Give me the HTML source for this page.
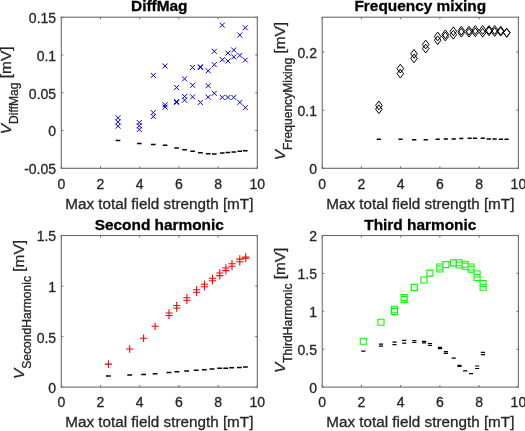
<!DOCTYPE html>
<html><head><meta charset="utf-8"><style>
html,body{margin:0;padding:0;background:#fff;}
svg{display:block;will-change:transform;}
text{font-family:"Liberation Sans",sans-serif;fill:#262626;stroke:#262626;stroke-width:0.3px;}
.tk{font-size:14px;}
.lb{font-size:15.4px;}
.sb{font-size:12.1px;}
.xl{font-size:15.25px;}
.tt{font-size:15.4px;font-weight:bold;fill:#000;stroke:#000;}
</style></head><body>
<svg width="525" height="431" viewBox="0 0 525 431">
<rect width="525" height="431" fill="#fff"/>
<rect x="61.3" y="17.2" width="196.0" height="151.1" fill="none" stroke="#6b6b6b" stroke-width="1.1"/>
<line x1="61.3" y1="168.3" x2="61.3" y2="166.3" stroke="#6b6b6b" stroke-width="1"/>
<line x1="61.3" y1="17.2" x2="61.3" y2="19.2" stroke="#6b6b6b" stroke-width="1"/>
<text x="61.3" y="188.5" class="tk" text-anchor="middle">0</text>
<line x1="100.5" y1="168.3" x2="100.5" y2="166.3" stroke="#6b6b6b" stroke-width="1"/>
<line x1="100.5" y1="17.2" x2="100.5" y2="19.2" stroke="#6b6b6b" stroke-width="1"/>
<text x="100.5" y="188.5" class="tk" text-anchor="middle">2</text>
<line x1="139.7" y1="168.3" x2="139.7" y2="166.3" stroke="#6b6b6b" stroke-width="1"/>
<line x1="139.7" y1="17.2" x2="139.7" y2="19.2" stroke="#6b6b6b" stroke-width="1"/>
<text x="139.7" y="188.5" class="tk" text-anchor="middle">4</text>
<line x1="178.9" y1="168.3" x2="178.9" y2="166.3" stroke="#6b6b6b" stroke-width="1"/>
<line x1="178.9" y1="17.2" x2="178.9" y2="19.2" stroke="#6b6b6b" stroke-width="1"/>
<text x="178.9" y="188.5" class="tk" text-anchor="middle">6</text>
<line x1="218.1" y1="168.3" x2="218.1" y2="166.3" stroke="#6b6b6b" stroke-width="1"/>
<line x1="218.1" y1="17.2" x2="218.1" y2="19.2" stroke="#6b6b6b" stroke-width="1"/>
<text x="218.1" y="188.5" class="tk" text-anchor="middle">8</text>
<line x1="257.3" y1="168.3" x2="257.3" y2="166.3" stroke="#6b6b6b" stroke-width="1"/>
<line x1="257.3" y1="17.2" x2="257.3" y2="19.2" stroke="#6b6b6b" stroke-width="1"/>
<text x="257.3" y="188.5" class="tk" text-anchor="middle">10</text>
<line x1="61.3" y1="168.3" x2="63.3" y2="168.3" stroke="#6b6b6b" stroke-width="1"/>
<line x1="257.3" y1="168.3" x2="255.3" y2="168.3" stroke="#6b6b6b" stroke-width="1"/>
<text x="56.1" y="174.2" class="tk" text-anchor="end">-0.05</text>
<line x1="61.3" y1="130.5" x2="63.3" y2="130.5" stroke="#6b6b6b" stroke-width="1"/>
<line x1="257.3" y1="130.5" x2="255.3" y2="130.5" stroke="#6b6b6b" stroke-width="1"/>
<text x="56.1" y="136.4" class="tk" text-anchor="end">0</text>
<line x1="61.3" y1="92.8" x2="63.3" y2="92.8" stroke="#6b6b6b" stroke-width="1"/>
<line x1="257.3" y1="92.8" x2="255.3" y2="92.8" stroke="#6b6b6b" stroke-width="1"/>
<text x="56.1" y="98.7" class="tk" text-anchor="end">0.05</text>
<line x1="61.3" y1="55.0" x2="63.3" y2="55.0" stroke="#6b6b6b" stroke-width="1"/>
<line x1="257.3" y1="55.0" x2="255.3" y2="55.0" stroke="#6b6b6b" stroke-width="1"/>
<text x="56.1" y="60.9" class="tk" text-anchor="end">0.1</text>
<line x1="61.3" y1="17.2" x2="63.3" y2="17.2" stroke="#6b6b6b" stroke-width="1"/>
<line x1="257.3" y1="17.2" x2="255.3" y2="17.2" stroke="#6b6b6b" stroke-width="1"/>
<text x="56.1" y="23.1" class="tk" text-anchor="end">0.15</text>
<text x="159.3" y="208.6" class="xl" text-anchor="middle">Max total field strength [mT]</text>
<text x="159.3" y="11.2" class="tt" text-anchor="middle">DiffMag</text>
<text transform="translate(10.9,134.2) rotate(-90)" class="lb"><tspan font-style="italic">V</tspan><tspan class="sb" dy="7">DiffMag</tspan><tspan dy="-7"> [mV]</tspan></text>
<rect x="322.2" y="17.2" width="196.2" height="151.1" fill="none" stroke="#6b6b6b" stroke-width="1.1"/>
<line x1="322.2" y1="168.3" x2="322.2" y2="166.3" stroke="#6b6b6b" stroke-width="1"/>
<line x1="322.2" y1="17.2" x2="322.2" y2="19.2" stroke="#6b6b6b" stroke-width="1"/>
<text x="322.2" y="188.5" class="tk" text-anchor="middle">0</text>
<line x1="361.4" y1="168.3" x2="361.4" y2="166.3" stroke="#6b6b6b" stroke-width="1"/>
<line x1="361.4" y1="17.2" x2="361.4" y2="19.2" stroke="#6b6b6b" stroke-width="1"/>
<text x="361.4" y="188.5" class="tk" text-anchor="middle">2</text>
<line x1="400.7" y1="168.3" x2="400.7" y2="166.3" stroke="#6b6b6b" stroke-width="1"/>
<line x1="400.7" y1="17.2" x2="400.7" y2="19.2" stroke="#6b6b6b" stroke-width="1"/>
<text x="400.7" y="188.5" class="tk" text-anchor="middle">4</text>
<line x1="439.9" y1="168.3" x2="439.9" y2="166.3" stroke="#6b6b6b" stroke-width="1"/>
<line x1="439.9" y1="17.2" x2="439.9" y2="19.2" stroke="#6b6b6b" stroke-width="1"/>
<text x="439.9" y="188.5" class="tk" text-anchor="middle">6</text>
<line x1="479.2" y1="168.3" x2="479.2" y2="166.3" stroke="#6b6b6b" stroke-width="1"/>
<line x1="479.2" y1="17.2" x2="479.2" y2="19.2" stroke="#6b6b6b" stroke-width="1"/>
<text x="479.2" y="188.5" class="tk" text-anchor="middle">8</text>
<line x1="518.4" y1="168.3" x2="518.4" y2="166.3" stroke="#6b6b6b" stroke-width="1"/>
<line x1="518.4" y1="17.2" x2="518.4" y2="19.2" stroke="#6b6b6b" stroke-width="1"/>
<text x="518.4" y="188.5" class="tk" text-anchor="middle">10</text>
<line x1="322.2" y1="168.3" x2="324.2" y2="168.3" stroke="#6b6b6b" stroke-width="1"/>
<line x1="518.4" y1="168.3" x2="516.4" y2="168.3" stroke="#6b6b6b" stroke-width="1"/>
<text x="317.0" y="174.2" class="tk" text-anchor="end">0</text>
<line x1="322.2" y1="110.2" x2="324.2" y2="110.2" stroke="#6b6b6b" stroke-width="1"/>
<line x1="518.4" y1="110.2" x2="516.4" y2="110.2" stroke="#6b6b6b" stroke-width="1"/>
<text x="317.0" y="116.1" class="tk" text-anchor="end">0.1</text>
<line x1="322.2" y1="52.1" x2="324.2" y2="52.1" stroke="#6b6b6b" stroke-width="1"/>
<line x1="518.4" y1="52.1" x2="516.4" y2="52.1" stroke="#6b6b6b" stroke-width="1"/>
<text x="317.0" y="58.0" class="tk" text-anchor="end">0.2</text>
<text x="420.3" y="208.6" class="xl" text-anchor="middle">Max total field strength [mT]</text>
<text x="420.3" y="11.2" class="tt" text-anchor="middle">Frequency mixing</text>
<text transform="translate(284.6,160.2) rotate(-90)" class="lb"><tspan font-style="italic">V</tspan><tspan class="sb" dy="7">FrequencyMixing</tspan><tspan dy="-7"> [mV]</tspan></text>
<rect x="61.3" y="235.5" width="196.0" height="151.6" fill="none" stroke="#6b6b6b" stroke-width="1.1"/>
<line x1="61.3" y1="387.1" x2="61.3" y2="385.1" stroke="#6b6b6b" stroke-width="1"/>
<line x1="61.3" y1="235.5" x2="61.3" y2="237.5" stroke="#6b6b6b" stroke-width="1"/>
<text x="61.3" y="407.3" class="tk" text-anchor="middle">0</text>
<line x1="100.5" y1="387.1" x2="100.5" y2="385.1" stroke="#6b6b6b" stroke-width="1"/>
<line x1="100.5" y1="235.5" x2="100.5" y2="237.5" stroke="#6b6b6b" stroke-width="1"/>
<text x="100.5" y="407.3" class="tk" text-anchor="middle">2</text>
<line x1="139.7" y1="387.1" x2="139.7" y2="385.1" stroke="#6b6b6b" stroke-width="1"/>
<line x1="139.7" y1="235.5" x2="139.7" y2="237.5" stroke="#6b6b6b" stroke-width="1"/>
<text x="139.7" y="407.3" class="tk" text-anchor="middle">4</text>
<line x1="178.9" y1="387.1" x2="178.9" y2="385.1" stroke="#6b6b6b" stroke-width="1"/>
<line x1="178.9" y1="235.5" x2="178.9" y2="237.5" stroke="#6b6b6b" stroke-width="1"/>
<text x="178.9" y="407.3" class="tk" text-anchor="middle">6</text>
<line x1="218.1" y1="387.1" x2="218.1" y2="385.1" stroke="#6b6b6b" stroke-width="1"/>
<line x1="218.1" y1="235.5" x2="218.1" y2="237.5" stroke="#6b6b6b" stroke-width="1"/>
<text x="218.1" y="407.3" class="tk" text-anchor="middle">8</text>
<line x1="257.3" y1="387.1" x2="257.3" y2="385.1" stroke="#6b6b6b" stroke-width="1"/>
<line x1="257.3" y1="235.5" x2="257.3" y2="237.5" stroke="#6b6b6b" stroke-width="1"/>
<text x="257.3" y="407.3" class="tk" text-anchor="middle">10</text>
<line x1="61.3" y1="387.1" x2="63.3" y2="387.1" stroke="#6b6b6b" stroke-width="1"/>
<line x1="257.3" y1="387.1" x2="255.3" y2="387.1" stroke="#6b6b6b" stroke-width="1"/>
<text x="56.1" y="393.0" class="tk" text-anchor="end">0</text>
<line x1="61.3" y1="336.6" x2="63.3" y2="336.6" stroke="#6b6b6b" stroke-width="1"/>
<line x1="257.3" y1="336.6" x2="255.3" y2="336.6" stroke="#6b6b6b" stroke-width="1"/>
<text x="56.1" y="342.5" class="tk" text-anchor="end">0.5</text>
<line x1="61.3" y1="286.0" x2="63.3" y2="286.0" stroke="#6b6b6b" stroke-width="1"/>
<line x1="257.3" y1="286.0" x2="255.3" y2="286.0" stroke="#6b6b6b" stroke-width="1"/>
<text x="56.1" y="291.9" class="tk" text-anchor="end">1</text>
<line x1="61.3" y1="235.5" x2="63.3" y2="235.5" stroke="#6b6b6b" stroke-width="1"/>
<line x1="257.3" y1="235.5" x2="255.3" y2="235.5" stroke="#6b6b6b" stroke-width="1"/>
<text x="56.1" y="241.4" class="tk" text-anchor="end">1.5</text>
<text x="159.3" y="427.4" class="xl" text-anchor="middle">Max total field strength [mT]</text>
<text x="159.3" y="229.5" class="tt" text-anchor="middle">Second harmonic</text>
<text transform="translate(24.4,379.0) rotate(-90)" class="lb"><tspan font-style="italic">V</tspan><tspan class="sb" dy="7">SecondHarmonic</tspan><tspan dy="-7"> [mV]</tspan></text>
<rect x="322.2" y="235.5" width="196.2" height="151.6" fill="none" stroke="#6b6b6b" stroke-width="1.1"/>
<line x1="322.2" y1="387.1" x2="322.2" y2="385.1" stroke="#6b6b6b" stroke-width="1"/>
<line x1="322.2" y1="235.5" x2="322.2" y2="237.5" stroke="#6b6b6b" stroke-width="1"/>
<text x="322.2" y="407.3" class="tk" text-anchor="middle">0</text>
<line x1="361.4" y1="387.1" x2="361.4" y2="385.1" stroke="#6b6b6b" stroke-width="1"/>
<line x1="361.4" y1="235.5" x2="361.4" y2="237.5" stroke="#6b6b6b" stroke-width="1"/>
<text x="361.4" y="407.3" class="tk" text-anchor="middle">2</text>
<line x1="400.7" y1="387.1" x2="400.7" y2="385.1" stroke="#6b6b6b" stroke-width="1"/>
<line x1="400.7" y1="235.5" x2="400.7" y2="237.5" stroke="#6b6b6b" stroke-width="1"/>
<text x="400.7" y="407.3" class="tk" text-anchor="middle">4</text>
<line x1="439.9" y1="387.1" x2="439.9" y2="385.1" stroke="#6b6b6b" stroke-width="1"/>
<line x1="439.9" y1="235.5" x2="439.9" y2="237.5" stroke="#6b6b6b" stroke-width="1"/>
<text x="439.9" y="407.3" class="tk" text-anchor="middle">6</text>
<line x1="479.2" y1="387.1" x2="479.2" y2="385.1" stroke="#6b6b6b" stroke-width="1"/>
<line x1="479.2" y1="235.5" x2="479.2" y2="237.5" stroke="#6b6b6b" stroke-width="1"/>
<text x="479.2" y="407.3" class="tk" text-anchor="middle">8</text>
<line x1="518.4" y1="387.1" x2="518.4" y2="385.1" stroke="#6b6b6b" stroke-width="1"/>
<line x1="518.4" y1="235.5" x2="518.4" y2="237.5" stroke="#6b6b6b" stroke-width="1"/>
<text x="518.4" y="407.3" class="tk" text-anchor="middle">10</text>
<line x1="322.2" y1="387.1" x2="324.2" y2="387.1" stroke="#6b6b6b" stroke-width="1"/>
<line x1="518.4" y1="387.1" x2="516.4" y2="387.1" stroke="#6b6b6b" stroke-width="1"/>
<text x="317.0" y="393.0" class="tk" text-anchor="end">0</text>
<line x1="322.2" y1="349.2" x2="324.2" y2="349.2" stroke="#6b6b6b" stroke-width="1"/>
<line x1="518.4" y1="349.2" x2="516.4" y2="349.2" stroke="#6b6b6b" stroke-width="1"/>
<text x="317.0" y="355.1" class="tk" text-anchor="end">0.5</text>
<line x1="322.2" y1="311.3" x2="324.2" y2="311.3" stroke="#6b6b6b" stroke-width="1"/>
<line x1="518.4" y1="311.3" x2="516.4" y2="311.3" stroke="#6b6b6b" stroke-width="1"/>
<text x="317.0" y="317.2" class="tk" text-anchor="end">1</text>
<line x1="322.2" y1="273.4" x2="324.2" y2="273.4" stroke="#6b6b6b" stroke-width="1"/>
<line x1="518.4" y1="273.4" x2="516.4" y2="273.4" stroke="#6b6b6b" stroke-width="1"/>
<text x="317.0" y="279.3" class="tk" text-anchor="end">1.5</text>
<line x1="322.2" y1="235.5" x2="324.2" y2="235.5" stroke="#6b6b6b" stroke-width="1"/>
<line x1="518.4" y1="235.5" x2="516.4" y2="235.5" stroke="#6b6b6b" stroke-width="1"/>
<text x="317.0" y="241.4" class="tk" text-anchor="end">2</text>
<text x="420.3" y="427.4" class="xl" text-anchor="middle">Max total field strength [mT]</text>
<text x="420.3" y="229.5" class="tt" text-anchor="middle">Third harmonic</text>
<text transform="translate(284.6,373.1) rotate(-90)" class="lb"><tspan font-style="italic">V</tspan><tspan class="sb" dy="7">ThirdHarmonic</tspan><tspan dy="-7"> [mV]</tspan></text>
<path d="M115.5 115.3l5 5m0 -5l-5 5M115.5 119.4l5 5m0 -5l-5 5M115.5 123.7l5 5m0 -5l-5 5M136.8 120.0l5 5m0 -5l-5 5M136.8 123.3l5 5m0 -5l-5 5M136.8 127.0l5 5m0 -5l-5 5M150.8 72.9l5 5m0 -5l-5 5M150.8 110.1l5 5m0 -5l-5 5M150.8 114.0l5 5m0 -5l-5 5M162.6 63.5l5 5m0 -5l-5 5M162.6 102.3l5 5m0 -5l-5 5M162.6 104.6l5 5m0 -5l-5 5M174.1 85.0l5 5m0 -5l-5 5M174.1 99.1l5 5m0 -5l-5 5M174.1 99.9l5 5m0 -5l-5 5M182.1 76.3l5 5m0 -5l-5 5M182.1 94.0l5 5m0 -5l-5 5M182.1 97.7l5 5m0 -5l-5 5M190.1 65.0l5 5m0 -5l-5 5M190.1 82.8l5 5m0 -5l-5 5M190.1 94.4l5 5m0 -5l-5 5M197.9 64.3l5 5m0 -5l-5 5M197.9 65.0l5 5m0 -5l-5 5M197.9 99.9l5 5m0 -5l-5 5M205.7 68.3l5 5m0 -5l-5 5M205.7 83.2l5 5m0 -5l-5 5M205.7 94.6l5 5m0 -5l-5 5M211.8 48.8l5 5m0 -5l-5 5M211.8 62.2l5 5m0 -5l-5 5M211.8 90.8l5 5m0 -5l-5 5M219.8 22.7l5 5m0 -5l-5 5M219.8 57.2l5 5m0 -5l-5 5M219.8 94.9l5 5m0 -5l-5 5M225.4 50.7l5 5m0 -5l-5 5M225.4 58.5l5 5m0 -5l-5 5M225.4 94.9l5 5m0 -5l-5 5M231.3 47.5l5 5m0 -5l-5 5M231.3 54.4l5 5m0 -5l-5 5M231.3 94.9l5 5m0 -5l-5 5M237.3 32.5l5 5m0 -5l-5 5M237.3 52.9l5 5m0 -5l-5 5M237.3 99.9l5 5m0 -5l-5 5M242.8 25.3l5 5m0 -5l-5 5M242.8 57.5l5 5m0 -5l-5 5M242.8 105.1l5 5m0 -5l-5 5" stroke="#0000ff" stroke-width="1" fill="none"/>
<path d="M115.7 140.5h4.6M137.0 143.5h4.6M151.0 144.4h4.6M162.8 145.3h4.6M174.3 148.1h4.6M182.3 149.8h4.6M190.3 151.3h4.6M198.1 152.7h4.6M205.9 153.7h4.6M212.0 154.0h4.6M220.0 153.1h4.6M225.6 152.4h4.6M231.5 152.0h4.6M237.5 151.3h4.6M243.0 150.7h4.6" stroke="#000" stroke-width="1.5" fill="none"/>
<path d="M378.9 101.0l3.3 4.4l-3.3 4.4l-3.3 -4.4zM378.9 104.8l3.3 4.4l-3.3 4.4l-3.3 -4.4zM400.3 64.2l3.3 4.4l-3.3 4.4l-3.3 -4.4zM400.3 69.2l3.3 4.4l-3.3 4.4l-3.3 -4.4zM414.0 49.4l3.3 4.4l-3.3 4.4l-3.3 -4.4zM414.0 54.0l3.3 4.4l-3.3 4.4l-3.3 -4.4zM425.7 40.1l3.3 4.4l-3.3 4.4l-3.3 -4.4zM425.7 44.2l3.3 4.4l-3.3 4.4l-3.3 -4.4zM437.7 32.1l3.3 4.4l-3.3 4.4l-3.3 -4.4zM437.7 35.8l3.3 4.4l-3.3 4.4l-3.3 -4.4zM445.3 29.9l3.3 4.4l-3.3 4.4l-3.3 -4.4zM445.3 32.1l3.3 4.4l-3.3 4.4l-3.3 -4.4zM453.3 26.9l3.3 4.4l-3.3 4.4l-3.3 -4.4zM453.3 30.3l3.3 4.4l-3.3 4.4l-3.3 -4.4zM461.3 26.3l3.3 4.4l-3.3 4.4l-3.3 -4.4zM461.3 28.3l3.3 4.4l-3.3 4.4l-3.3 -4.4zM469.0 26.3l3.3 4.4l-3.3 4.4l-3.3 -4.4zM469.0 28.3l3.3 4.4l-3.3 4.4l-3.3 -4.4zM475.3 25.6l3.3 4.4l-3.3 4.4l-3.3 -4.4zM475.3 27.9l3.3 4.4l-3.3 4.4l-3.3 -4.4zM482.7 25.6l3.3 4.4l-3.3 4.4l-3.3 -4.4zM482.7 28.3l3.3 4.4l-3.3 4.4l-3.3 -4.4zM489.0 25.6l3.3 4.4l-3.3 4.4l-3.3 -4.4zM489.0 26.9l3.3 4.4l-3.3 4.4l-3.3 -4.4zM494.7 25.6l3.3 4.4l-3.3 4.4l-3.3 -4.4zM494.7 27.6l3.3 4.4l-3.3 4.4l-3.3 -4.4zM500.7 26.3l3.3 4.4l-3.3 4.4l-3.3 -4.4zM500.7 27.3l3.3 4.4l-3.3 4.4l-3.3 -4.4zM506.7 28.3l3.3 4.4l-3.3 4.4l-3.3 -4.4zM506.7 28.3l3.3 4.4l-3.3 4.4l-3.3 -4.4z" stroke="#000" stroke-width="1.0" fill="none"/>
<path d="M376.8 139.2h4.2M398.5 139.2h4.2M412.1 139.7h4.2M423.6 139.7h4.2M435.6 139.2h4.2M443.7 139.0h4.2M451.6 138.9h4.2M459.2 138.6h4.2M467.6 138.3h4.2M472.9 138.3h4.2M480.6 138.3h4.2M486.7 138.9h4.2M492.5 138.9h4.2M498.9 139.2h4.2M504.5 139.2h4.2" stroke="#000" stroke-width="1.5" fill="none"/>
<path d="M104.8 364.1h7.2M108.4 360.3v7.6M126.1 349.0h7.2M129.7 345.2v7.6M140.0 338.2h7.2M143.6 334.4v7.6M151.5 326.3h7.2M155.1 322.5v7.6M165.4 313.0h7.2M169.0 309.2v7.6M165.4 315.5h7.2M169.0 311.7v7.6M173.1 305.5h7.2M176.7 301.7v7.6M173.1 308.0h7.2M176.7 304.2v7.6M183.3 297.7h7.2M186.9 293.9v7.6M183.3 300.3h7.2M186.9 296.5v7.6M193.0 289.7h7.2M196.6 285.9v7.6M193.0 292.3h7.2M196.6 288.5v7.6M200.9 284.2h7.2M204.5 280.4v7.6M200.9 286.8h7.2M204.5 283.0v7.6M208.9 278.2h7.2M212.5 274.4v7.6M208.9 280.8h7.2M212.5 277.0v7.6M216.2 273.0h7.2M219.8 269.2v7.6M216.2 275.6h7.2M219.8 271.8v7.6M222.3 268.0h7.2M225.9 264.2v7.6M222.3 270.6h7.2M225.9 266.8v7.6M228.4 263.7h7.2M232.0 259.9v7.6M228.4 266.3h7.2M232.0 262.5v7.6M236.2 259.1h7.2M239.8 255.3v7.6M236.2 261.7h7.2M239.8 257.9v7.6M242.1 257.0h7.2M245.7 253.2v7.6M242.1 258.2h7.2M245.7 254.4v7.6" stroke="#ff0000" stroke-width="1.1" fill="none"/>
<path d="M106.0 376.1h4.8M127.3 375.0h4.8M141.2 374.6h4.8M152.7 373.7h4.8M166.6 372.5h4.8M174.5 371.7h4.8M184.2 371.0h4.8M193.8 370.3h4.8M201.9 369.7h4.8M209.6 369.0h4.8M217.3 368.3h4.8M223.3 368.3h4.8M229.3 367.8h4.8M237.0 367.4h4.8M243.0 367.1h4.8" stroke="#000" stroke-width="1.5" fill="none"/>
<path d="M360.3 338.2h6v6h-6zM378.0 319.3h6v6h-6zM391.5 306.3h6v6h-6zM391.5 308.5h6v6h-6zM401.2 294.5h6v6h-6zM401.2 296.5h6v6h-6zM411.3 284.4h6v6h-6zM421.0 277.0h6v6h-6zM427.0 270.1h6v6h-6zM436.8 264.0h6v6h-6zM436.8 266.0h6v6h-6zM442.9 261.6h6v6h-6zM450.5 259.9h6v6h-6zM456.1 259.8h6v6h-6zM456.1 262.0h6v6h-6zM462.1 261.2h6v6h-6zM462.1 263.3h6v6h-6zM468.1 264.0h6v6h-6zM468.1 266.2h6v6h-6zM474.1 271.0h6v6h-6zM474.1 274.5h6v6h-6zM480.1 280.5h6v6h-6zM480.1 284.2h6v6h-6z" stroke="#00ff00" stroke-width="1.1" fill="none"/>
<path d="M361.2 351.2h4.2M378.9 344.2h4.2M378.9 346.1h4.2M392.4 342.2h4.2M392.4 344.6h4.2M402.1 340.3h4.2M402.1 343.1h4.2M412.2 340.5h4.2M412.2 342.3h4.2M422.0 341.4h4.2M422.0 342.8h4.2M427.9 343.5h4.2M427.9 345.4h4.2M437.9 347.4h4.2M437.9 348.6h4.2M443.8 351.7h4.2M443.8 353.3h4.2M451.6 358.1h4.2M457.4 365.3h4.2M457.4 366.5h4.2M463.1 370.8h4.2M469.0 373.7h4.2M475.0 366.0h4.2M475.0 368.5h4.2M480.8 352.3h4.2M480.8 354.7h4.2" stroke="#000" stroke-width="1.2" fill="none"/>
</svg></body></html>
